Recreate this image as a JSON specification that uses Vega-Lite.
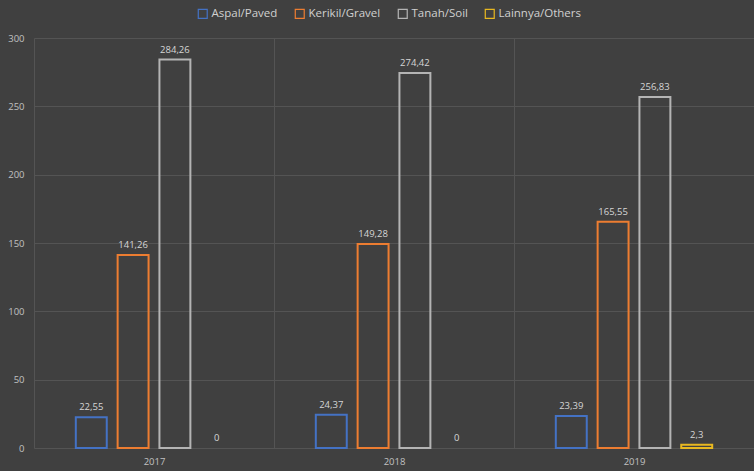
{
  "$schema": "https://vega.github.io/schema/vega-lite/v6.json",
  "width": 720,
  "height": 410,
  "autosize": {"type": "none"},
  "padding": {"left": 34, "top": 38, "right": 0, "bottom": 23},
  "background": "#404040",
  "config": {
    "view": {"stroke": null},
    "font": "Open Sans",
    "locale": {"number": {"decimal": ",", "thousands": ".", "grouping": [3], "currency": ["", ""]}}
  },
  "data": {
    "values": [
      {"year": "2017", "type": "Aspal/Paved", "value": 22.55},
      {"year": "2017", "type": "Kerikil/Gravel", "value": 141.26},
      {"year": "2017", "type": "Tanah/Soil", "value": 284.26},
      {"year": "2017", "type": "Lainnya/Others", "value": 0},
      {"year": "2018", "type": "Aspal/Paved", "value": 24.37},
      {"year": "2018", "type": "Kerikil/Gravel", "value": 149.28},
      {"year": "2018", "type": "Tanah/Soil", "value": 274.42},
      {"year": "2018", "type": "Lainnya/Others", "value": 0},
      {"year": "2019", "type": "Aspal/Paved", "value": 23.39},
      {"year": "2019", "type": "Kerikil/Gravel", "value": 165.55},
      {"year": "2019", "type": "Tanah/Soil", "value": 256.83},
      {"year": "2019", "type": "Lainnya/Others", "value": 2.3}
    ]
  },
  "encoding": {
    "x": {
      "field": "year", "type": "nominal",
      "scale": {"paddingInner": 0, "paddingOuter": 0},
      "axis": {
        "title": null, "labelAngle": 0, "ticks": false, "domain": false,
        "grid": true, "tickBand": "extent", "gridColor": "#545454", "gridWidth": 1,
        "labelColor": "#c0c0c0", "labelFontSize": 9.5, "labelPadding": 8
      }
    },
    "xOffset": {
      "field": "type", "type": "nominal",
      "sort": ["Aspal/Paved", "Kerikil/Gravel", "Tanah/Soil", "Lainnya/Others"],
      "scale": {"paddingInner": 0.26, "paddingOuter": 1.15}
    },
    "y": {
      "field": "value", "type": "quantitative",
      "scale": {"domain": [0, 300], "nice": false},
      "axis": {
        "title": null, "values": [0, 50, 100, 150, 200, 250, 300], "ticks": false, "domain": false,
        "gridColor": "#545454", "gridWidth": 1,
        "labelColor": "#c0c0c0", "labelFontSize": 9.5, "labelPadding": 10
      }
    }
  },
  "layer": [
    {
      "mark": {"type": "bar", "fill": "transparent", "strokeWidth": 2},
      "encoding": {
        "stroke": {
          "field": "type", "type": "nominal",
          "scale": {
            "domain": ["Aspal/Paved", "Kerikil/Gravel", "Tanah/Soil", "Lainnya/Others"],
            "range": ["#4472C4", "#ED7D31", "#B4B4B4", "#E8B820"]
          },
          "legend": {
            "title": null, "orient": "none", "direction": "horizontal",
            "legendX": 163, "legendY": -30,
            "symbolType": "square", "symbolSize": 80, "symbolStrokeWidth": 1.2,
            "symbolFillColor": "transparent",
            "labelColor": "#d0d0d0", "labelFontSize": 11.5, "labelOffset": 3,
            "columnPadding": 14
          }
        },
        "strokeOpacity": {"condition": {"test": "datum.value == 0", "value": 0}, "value": 1}
      }
    },
    {
      "mark": {"type": "text", "baseline": "bottom", "dy": -5, "fontSize": 9.5, "color": "#d6d6d6"},
      "encoding": {
        "text": {"field": "value", "type": "quantitative", "format": "~f"}
      }
    }
  ]
}
